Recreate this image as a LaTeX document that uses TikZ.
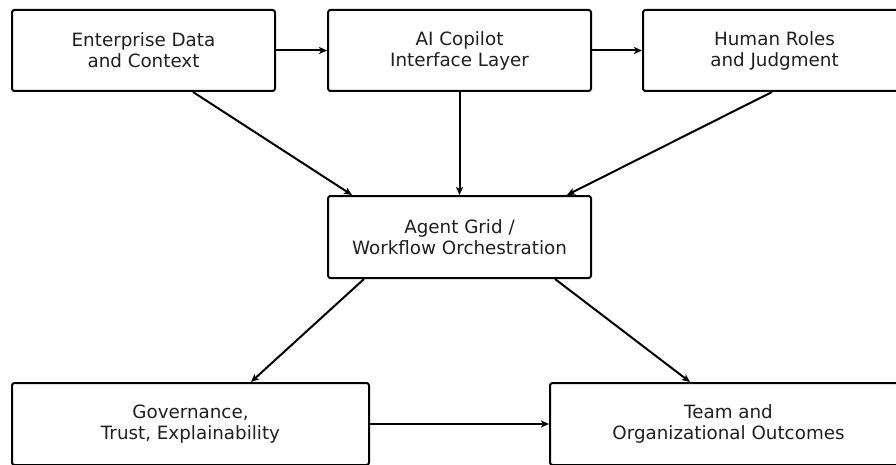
\documentclass[tikz,border=0pt]{standalone}
\usepackage{fontspec}
\setmainfont{DejaVu Sans}
\usetikzlibrary{arrows.meta}
\begin{document}
\begin{tikzpicture}[x=1pt,y=-1pt,
  box/.style={draw=black,line width=2pt,rounded corners=2.5pt,fill=white,
    align=center,inner sep=0pt,font=\fontsize{18.3}{21}\selectfont,text=black!88},
  arr/.style={draw=black,line width=2pt,-{Stealth[length=8pt,width=7pt,inset=2pt]}}]
\useasboundingbox (0,0) rectangle (896,465);
\clip (0,0) rectangle (896,465);
\node[box,minimum width=263pt,minimum height=81pt] (ed) at (143.5,50.5) {Enterprise Data\\and Context};
\node[box,minimum width=263pt,minimum height=81pt] (ai) at (459.5,50.5) {AI Copilot\\Interface Layer};
\node[box,minimum width=263pt,minimum height=81pt] (hr) at (774.5,50.5) {Human Roles\\and Judgment};
\node[box,minimum width=263pt,minimum height=82pt] (ag) at (459.5,237) {Agent Grid /\\Workflow Orchestration};
\node[box,minimum width=357pt,minimum height=82pt] (gv) at (190.5,424) {Governance,\\Trust, Explainability};
\node[box,minimum width=357pt,minimum height=82pt] (tm) at (728.5,424) {Team and\\Organizational Outcomes};
\draw[arr] (ed.east) -- (ai.west);
\draw[arr] (ai.east) -- (hr.west);
\draw[arr] (ed.south -| 193,0) -- (ag.north -| 352,0);
\draw[arr] (ai.south) -- (ag.north);
\draw[arr] (hr.south -| 772,0) -- (ag.north -| 567,0);
\draw[arr] (ag.south -| 364,0) -- (gv.north -| 251,0);
\draw[arr] (ag.south -| 555,0) -- (tm.north -| 690,0);
\draw[arr] (gv.east) -- (tm.west);
\end{tikzpicture}
\end{document}
